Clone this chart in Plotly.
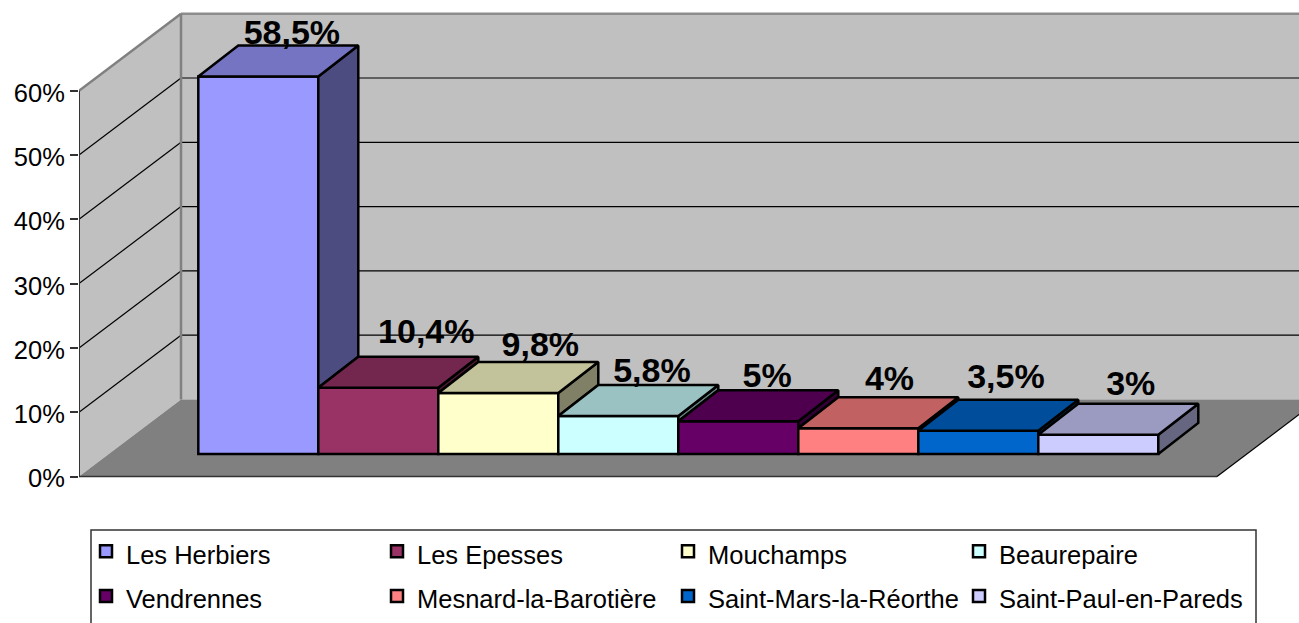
import plotly.graph_objects as go

# ---- data ----
communes = ["Les Herbiers", "Les Epesses", "Mouchamps", "Beaurepaire",
            "Vendrennes", "Mesnard-la-Barotière", "Saint-Mars-la-Réorthe", "Saint-Paul-en-Pareds"]
values = [58.7, 10.3, 9.5, 5.9, 5.1, 4.0, 3.6, 3.0]
value_labels = ["58,5%", "10,4%", "9,8%", "5,8%", "5%", "4%", "3,5%", "3%"]
colors = ["#9999FF", "#993366", "#FFFFCC", "#CCFFFF", "#660066", "#FF8080", "#0066CC", "#CCCCFF"]
tick_values = [0, 10, 20, 30, 40, 50, 60]
tick_labels = ["0%", "10%", "20%", "30%", "40%", "50%", "60%"]

# per-label placement offsets (category units / percent units)
label_dx = [0.28, 0.40, 0.35, 0.28, 0.24, 0.26, 0.23, 0.27]
label_dy = [1.6, 3.5, 2.2, 1.8, 1.8, 2.5, 3.1, 2.7]

# ---- scales: x in category slots, y in percent ----
FIG_W, FIG_H = 1299, 623
LEFT = 79
PX_X = 120.0          # px per category slot
PX_Y = 6.43           # px per percent
FLOOR_PX = 476.5
X_MIN = (LEFT - 258.3) / PX_X
X_MAX = (FIG_W - 258.3) / PX_X
Y_MAX = FLOOR_PX / PX_Y
Y_MIN = -(FIG_H - FLOOR_PX) / PX_Y

WALL_DX, WALL_DY = 102 / PX_X, 77 / PX_Y     # depth of the box
BAR_DX, BAR_DY = 40 / PX_X, 31 / PX_Y        # depth of a bar
BAR_BASE = 22.5 / PX_Y                       # bar foot above the front floor edge
FLOOR_W = 1138 / PX_X


def shade(hex_color, k):
    r, g, b = (int(hex_color[i:i + 2], 16) for i in (1, 3, 5))
    return f"rgb({round(r * k)},{round(g * k)},{round(b * k)})"


def poly(points):
    return "M" + "L".join(f"{x},{y}" for x, y in points) + "Z"


def line_shape(p0, p1, color, width):
    return dict(type="line", layer="below", xref="x", yref="y", x0=p0[0], y0=p0[1], x1=p1[0], y1=p1[1],
                line=dict(color=color, width=width))


top = tick_values[-1]
shapes = [
    dict(type="path", layer="below", xref="x", yref="y", fillcolor="#C0C0C0", line_width=0,
         path=poly([(X_MIN, 0), (X_MIN, top), (X_MIN + WALL_DX, top + WALL_DY),
                    (X_MIN + WALL_DX, WALL_DY)])),
    dict(type="path", layer="below", xref="x", yref="y", fillcolor="#C0C0C0", line_width=0,
         path=poly([(X_MIN + WALL_DX, WALL_DY), (X_MIN + WALL_DX, top + WALL_DY),
                    (X_MAX + 1, top + WALL_DY), (X_MAX + 1, WALL_DY)])),
    dict(type="path", layer="below", xref="x", yref="y", fillcolor="#808080", line_width=0,
         path=poly([(X_MIN, 0), (X_MIN + WALL_DX, WALL_DY), (X_MIN + WALL_DX + FLOOR_W, WALL_DY),
                    (X_MIN + FLOOR_W, 0)])),
]
for t in tick_values[1:-1]:
    shapes.append(line_shape((X_MIN, t), (X_MIN + WALL_DX, t + WALL_DY), "#000000", 1.2))
    shapes.append(line_shape((X_MIN + WALL_DX, t + WALL_DY), (X_MAX + 1, t + WALL_DY), "#000000", 1.2))
shapes += [
    line_shape((X_MIN, top), (X_MIN + WALL_DX, top + WALL_DY), "#808080", 2.5),
    line_shape((X_MIN + WALL_DX, top + WALL_DY), (X_MAX + 1, top + WALL_DY), "#8C8C8C", 2.5),
    line_shape((X_MIN + WALL_DX, WALL_DY), (X_MIN + WALL_DX, top + WALL_DY), "#808080", 2.5),
    line_shape((X_MIN, 0), (X_MIN + FLOOR_W, 0), "#333333", 1.5),
    line_shape((X_MIN + FLOOR_W, 0), (X_MIN + FLOOR_W + WALL_DX, WALL_DY), "#000000", 1.2),
    line_shape((X_MIN, 0), (X_MIN, top), "#333333", 2),
    # legend frame
    dict(type="rect", layer="below", xref="paper", yref="paper",
         x0=(91 - LEFT) / (FIG_W - LEFT), x1=(1256 - LEFT) / (FIG_W - LEFT),
         y0=-0.01, y1=(FIG_H - 530) / FIG_H,
         fillcolor="#FFFFFF", line=dict(color="#333333", width=1.5)),
]

fig = go.Figure()

# front faces, one trace per commune so that the legend has them
for i, (name, v, c) in enumerate(zip(communes, values, colors)):
    fig.add_trace(go.Bar(
        x=[i], y=[v], base=[BAR_BASE], width=1.0, name=f'<span style="font-size:25.5px">{name}</span>',
        marker=dict(color=c, line=dict(color="#000000", width=2.5)), hoverinfo="skip"))

# side and top faces
for i, (v, c) in enumerate(zip(values, colors)):
    xr = i + 0.5
    xl = i - 0.5
    y_top = BAR_BASE + v
    y_next = BAR_BASE + (values[i + 1] if i + 1 < len(values) else 0)
    fig.add_trace(go.Scatter(
        x=[xr, xr + BAR_DX, xr + BAR_DX, xr, xr],
        y=[y_top, y_top + BAR_DY, y_next + BAR_DY, y_next, y_top],
        mode="lines", fill="toself", fillcolor=shade(c, 0.5), line=dict(color="#000000", width=2.5),
        showlegend=False, hoverinfo="skip"))
    fig.add_trace(go.Scatter(
        x=[xl, xl + BAR_DX, xr + BAR_DX, xr, xl],
        y=[y_top, y_top + BAR_DY, y_top + BAR_DY, y_top, y_top],
        mode="lines", fill="toself", fillcolor=shade(c, 0.76), line=dict(color="#000000", width=2.5),
        showlegend=False, hoverinfo="skip"))

# value labels
fig.add_trace(go.Scatter(
    x=[i + dx for i, dx in enumerate(label_dx)],
    y=[BAR_BASE + v + BAR_DY + dy for v, dy in zip(values, label_dy)],
    mode="text", text=value_labels, textposition="middle center",
    textfont=dict(family="Liberation Sans", size=34, color="#000000"),
    texttemplate="<b>%{text}</b>", showlegend=False, hoverinfo="skip"))

fig.update_layout(
    width=FIG_W, height=FIG_H, autosize=False,
    margin=dict(l=LEFT, r=0, t=0, b=0, pad=0, autoexpand=False),
    paper_bgcolor="#FFFFFF", plot_bgcolor="#FFFFFF",
    barmode="overlay", shapes=shapes,
    font=dict(family="Liberation Sans", color="#000000"),
    xaxis=dict(range=[X_MIN, X_MAX], visible=False, fixedrange=True),
    yaxis=dict(range=[Y_MIN, Y_MAX], tickmode="array", tickvals=tick_values, ticktext=tick_labels,
               ticks="outside", ticklen=8, tickwidth=1.5, tickcolor="#333333", ticklabelshift=2,
               tickfont=dict(family="Liberation Sans", size=25.5, color="#000000"),
               showgrid=False, zeroline=False, showline=False, fixedrange=True),
    legend=dict(orientation="h", x=(86 - LEFT) / (FIG_W - LEFT), y=(FIG_H - 524) / FIG_H,
                xanchor="left", yanchor="top", bgcolor="rgba(0,0,0,0)", borderwidth=0,
                font=dict(family="Liberation Sans", size=32, color="#000000"),
                entrywidth=246, entrywidthmode="pixels", itemclick=False, itemdoubleclick=False),
    showlegend=True,
)

fig.write_html("out.html", config={"displayModeBar": False},
               post_script="document.body.style.margin='0';document.documentElement.style.overflow='hidden';")
